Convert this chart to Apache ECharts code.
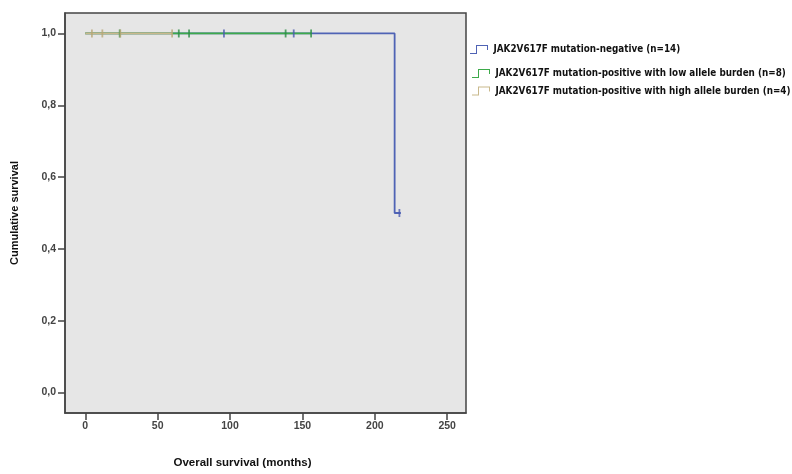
<!DOCTYPE html>
<html>
<head>
<meta charset="utf-8">
<script src="https://cdn.jsdelivr.net/npm/echarts@6/dist/echarts.min.js"></script>
<style>
  html, body { margin: 0; padding: 0; background: #fff; }
  #chartWrap { width: 792px; height: 474px; }
</style>
</head>
<body>
<div id="chartWrap"></div>
<script>
// group names
const groupNames = [
    'JAK2V617F mutation-negative (n=14)',
    'JAK2V617F mutation-positive with low allele burden (n=8)',
    'JAK2V617F mutation-positive with high allele burden (n=4)'
];
const groupColors = ['#4f63b5', '#3daa4a', '#c9b98c'];
const censorColors = ['#4a5ab0', '#2a8f44', '#b9a777'];

// survival steps: [months, cumulative survival]
const negSteps = [[0, 1], [213.7, 0.5], [218, 0.5]];
const lowSteps = [[0, 1], [156, 1]];
const highSteps = [[0, 1], [60, 1]];

// censored cases
const negCensored = [[95.8, 1], [144, 1], [217, 0.5]];
const lowCensored = [[23.8, 1], [64.6, 1], [71.7, 1], [138.4, 1], [156, 1]];
const highCensored = [[4.6, 1], [11.8, 1], [24.2, 1], [60, 1]];

// tick labels
const xTicks = [0, 50, 100, 150, 200, 250];
const yTicks = [0, 0.2, 0.4, 0.6, 0.8, 1.0];

const stepPath = 'path://M0,9 L6,9 L6,1 L18,1 L18,6 L17,6 L17,2 L7,2 L7,10 L0,10 Z';

function stepSeries(i, data) {
    return {
        name: groupNames[i],
        type: 'line',
        step: 'end',
        data: data,
        symbol: 'none',
        lineStyle: {color: groupColors[i], width: 1.8},
        itemStyle: {color: groupColors[i]},
        z: 2 + i
    };
}

function censorSeries(i, data) {
    return {
        name: 'censored ' + i,
        type: 'scatter',
        data: data,
        symbol: 'rect',
        symbolSize: [1.8, 8],
        itemStyle: {color: censorColors[i]},
        z: 6 + i
    };
}

const legendTops = [44.5, 68.5, 86];
const legendLefts = [470, 472, 472];

var chartDom = echarts.init(document.getElementById('chartWrap'));
var option = {
    animation: false,
    backgroundColor: '#ffffff',
    grid: {
        left: 65, right: 326, top: 13, bottom: 52,
        show: true,
        backgroundColor: '#e6e6e6',
        borderColor: '#444',
        borderWidth: 1.5
    },
    legend: groupNames.map((name, i) => ({
        data: [name],
        left: legendLefts[i],
        top: legendTops[i],
        padding: 0,
        icon: stepPath,
        itemWidth: 19,
        itemHeight: 9,
        itemGap: 0,
        textStyle: {
            fontFamily: 'DejaVu Sans Condensed, sans-serif',
            fontWeight: 'bold',
            fontSize: 9.8,
            color: '#111'
        }
    })),
    xAxis: {
        type: 'value',
        min: -14,
        max: 263,
        name: 'Overall survival (months)',
        nameLocation: 'middle',
        nameGap: 44,
        nameTextStyle: {
            fontFamily: 'Liberation Sans, sans-serif',
            fontWeight: 'bold',
            fontSize: 11.5,
            color: '#111',
            padding: [0, 46, 0, 0]
        },
        splitLine: {show: false},
        axisLine: {show: true, onZero: false, lineStyle: {color: '#444', width: 1.5}},
        axisTick: {show: true, length: 7, customValues: xTicks, lineStyle: {color: '#444', width: 1.5}},
        axisLabel: {
            customValues: xTicks,
            margin: 8,
            fontFamily: 'Liberation Sans, sans-serif',
            fontWeight: 'bold',
            fontSize: 10.5,
            color: '#444'
        }
    },
    yAxis: {
        type: 'value',
        min: -0.057,
        max: 1.057,
        name: 'Cumulative survival',
        nameLocation: 'middle',
        nameGap: 45,
        nameTextStyle: {
            fontFamily: 'Liberation Sans, sans-serif',
            fontWeight: 'bold',
            fontSize: 11,
            color: '#111'
        },
        splitLine: {show: false},
        axisLine: {show: true, onZero: false, lineStyle: {color: '#444', width: 1.5}},
        axisTick: {show: true, length: 7, customValues: yTicks, lineStyle: {color: '#444', width: 1.5}},
        axisLabel: {
            customValues: yTicks,
            margin: 9,
            formatter: v => v.toFixed(1).replace('.', ','),
            fontFamily: 'Liberation Sans, sans-serif',
            fontWeight: 'bold',
            fontSize: 10.5,
            color: '#444'
        }
    },
    series: [
        stepSeries(0, negSteps),
        stepSeries(1, lowSteps),
        stepSeries(2, highSteps),
        censorSeries(0, negCensored),
        censorSeries(1, lowCensored),
        censorSeries(2, highCensored)
    ]
};
chartDom.setOption(option);
</script>
</body>
</html>
